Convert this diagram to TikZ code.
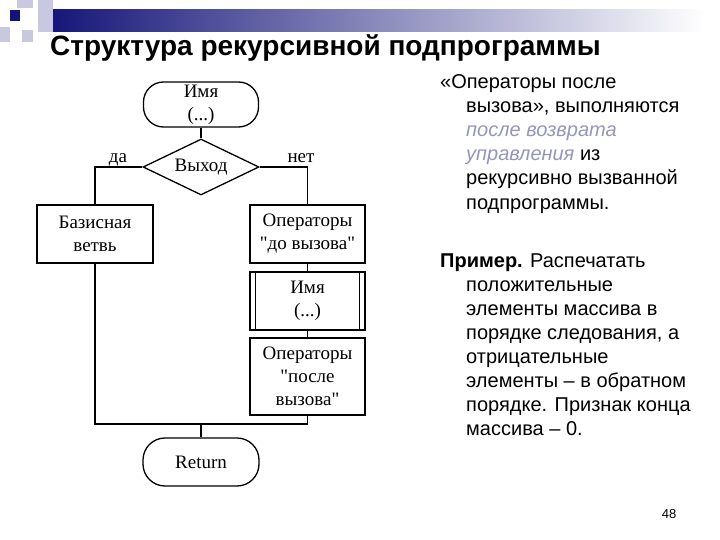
\documentclass[tikz,border=0pt]{standalone}
\usepackage{fontspec}
\setmainfont{Liberation Sans}
\newfontfamily\serf{Liberation Serif}
\usetikzlibrary{shapes.geometric}
\definecolor{navy}{RGB}{20,20,120}
\definecolor{lav}{RGB}{200,200,225}
\definecolor{grayblue}{RGB}{150,150,185}
\begin{document}
\begin{tikzpicture}[x=1pt,y=-1pt,
  fc/.style={draw,line width=1.3pt},
  ln/.style={line width=1.3pt},
  ft/.style={font=\serf\fontsize{19}{23}\selectfont,align=center},
  rt/.style={anchor=base west,inner sep=0pt,font=\fontsize{20}{24}\selectfont}]
\useasboundingbox (0,0) rectangle (720,540);
\fill[white] (0,0) rectangle (720,540);
% decoration
\shade[left color=navy,right color=white] (45,10) rectangle (705,32);
\fill[lav] (17,0) rectangle (33,8);
\fill[lav] (38,0) rectangle (53,32);
\fill[lav] (0,27) rectangle (10,42);
\fill[lav] (22,30) rectangle (33,42);
\fill[navy] (10,10) rectangle (20,21);
% title
\node[anchor=base west,inner sep=0pt,font=\bfseries\fontsize{28}{32}\selectfont] (title) at (50,56) {Структура рекурсивной подпрограммы};
% flowchart
\node[fc,ft,rounded corners=20pt,minimum width=115,minimum height=45,inner sep=0pt] (start) at (201,104.5) {Имя\\(...)};
\node[fc,ft,diamond,aspect=2.05,minimum width=116,minimum height=56,inner sep=0pt] (dec) at (201,167) {Выход};
\node[fc,ft,minimum width=116,minimum height=58,inner sep=0pt] (base) at (95,234) {Базисная\\ветвь};
\node[fc,ft,minimum width=115,minimum height=58,inner sep=0pt] (before) at (307.5,234) {Операторы\\"до вызова"};
\node[fc,ft,minimum width=115,minimum height=58,inner sep=0pt] (call) at (307.5,301) {Имя\\(...)};
\draw[ln] ([xshift=6]call.north west) -- ([xshift=6]call.south west);
\draw[ln] ([xshift=-6]call.north east) -- ([xshift=-6]call.south east);
\node[fc,ft,minimum width=115,minimum height=77,inner sep=0pt] (after) at (307.5,376.5) {Операторы\\"после\\вызова"};
\node[fc,ft,rounded corners=22pt,minimum width=116,minimum height=48,inner sep=0pt] (ret) at (201,462) {Return};
\coordinate (j) at (201,424);
\draw[ln] (start) -- (dec);
\draw[ln] (dec.west) -| (base.north);
\draw[ln] (dec.east) -| (before.north);
\draw[ln] (before) -- (call);
\draw[ln] (call) -- (after);
\draw[ln] (base.south) |- (j);
\draw[ln] (after.south) |- (j);
\draw[ln] (j) -- (ret);
\node[ft,anchor=base] (da) at (118,163) {да};
\node[ft,anchor=base] (net) at (301,163) {нет};
% right text
\node[rt] (t1) at (440,89) {«Операторы после};
\node[rt] (t2) at (466,113) {вызова», выполняются};
\node[rt,text=grayblue] (t3) at (466,137) {\itshape после возврата};
\node[rt] (t4) at (466,161) {{\color{grayblue}\itshape управления} из};
\node[rt] (t5) at (466,185) {рекурсивно вызванной};
\node[rt] (t6) at (466,210) {подпрограммы.};
\node[rt] (p1) at (440,267) {\textbf{Пример.} Распечатать};
\node[rt] (p2) at (466,291) {положительные};
\node[rt] (p3) at (466,315) {элементы массива в};
\node[rt] (p4) at (466,339) {порядке следования, а};
\node[rt] (p5) at (466,363) {отрицательные};
\node[rt] (p6) at (466,387) {элементы – в обратном};
\node[rt] (p7) at (466,411) {порядке. Признак конца};
\node[rt] (p8) at (466,435) {массива – 0.};
\node[anchor=base,inner sep=0pt,font=\fontsize{13}{15}\selectfont] (pg) at (669,518) {48};
\end{tikzpicture}
\end{document}
